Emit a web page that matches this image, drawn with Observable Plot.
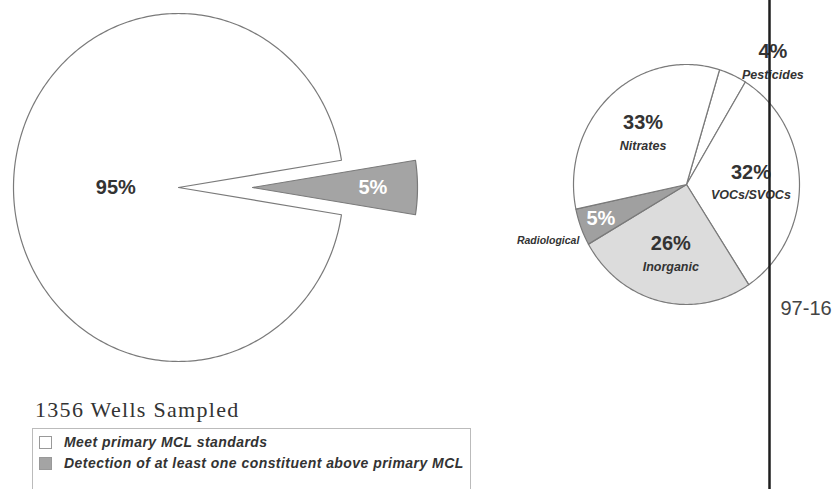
<!DOCTYPE html>
<html><head><meta charset="utf-8">
<script src="https://cdn.jsdelivr.net/npm/d3@7"></script>
<script src="https://cdn.jsdelivr.net/npm/@observablehq/plot@0.6"></script>
<style>
body{margin:0;background:#fff;}
#wrap{position:relative;width:837px;height:489px;overflow:hidden;font-family:"Liberation Sans",Arial,sans-serif;background:#fff;}
#chart{position:absolute;left:0;top:0;}
#title{position:absolute;left:35px;top:397px;font-family:"Liberation Serif","DejaVu Serif",serif;font-size:22px;letter-spacing:1.3px;color:#333;white-space:nowrap;}
#legend{position:absolute;left:32px;top:428px;width:437px;height:80px;border:1px solid #bbb;}
.item{position:absolute;left:6px;display:flex;align-items:center;font-style:italic;font-weight:bold;font-size:14px;letter-spacing:0.45px;color:#333;white-space:nowrap;}
.sw{width:11px;height:11px;border:1px solid #999;margin-right:12px;flex:none;}
</style></head><body>
<div id="wrap"><div id="chart"></div><div id="title"></div><div id="legend"></div></div>
<script>
// ---- data ----
const overallCategories = ["Meet primary MCL standards", "Detection of at least one constituent above primary MCL"];
const overallValues = [95, 5];
const constituentCategories = ["Pesticides", "VOCs/SVOCs", "Inorganic", "Radiological", "Nitrates"];
const constituentValues = [4, 32, 26, 5, 33];
const wellsSampled = 1356;
const sampleId = "97-16";

// ---- layout / style ----
const W = 837, H = 489;
const bigPie = {cx: 178, cy: 187, rx: 165, ry: 174, start: 99, explode: [0, 74], fills: ["#ffffff", "#a4a4a4"],
  labelR: [0.38, 0.73], labelFill: ["#333", "#ffffff"]};
const smallPie = {cx: 686, cy: 184, rx: 113, ry: 120, start: 17,
  fills: {"Pesticides": "#ffffff", "VOCs/SVOCs": "#ffffff", "Inorganic": "#dcdcdc", "Radiological": "#a0a0a0", "Nitrates": "#ffffff"}};
const smallLabels = {
  "Pesticides": {r: 1.27, a: 37},
  "VOCs/SVOCs": {r: 0.57},
  "Inorganic": {r: 0.6},
  "Radiological": {r: 0.81, nameR: 1.31, split: true, pctFill: "#ffffff"},
  "Nitrates": {r: 0.57}
};
const divider = {x: W - 68};
const strokeCol = "#7a7a7a";

const rad = d => d * Math.PI / 180;
function pt(p, a, r, off = 0) {
  return [p.cx + off * Math.sin(rad(a)) + r * p.rx * Math.sin(rad(a)), p.cy - off * Math.cos(rad(a)) - r * p.ry * Math.cos(rad(a))];
}
function slicePoints(p, a0, a1, off, id) {
  const c = pt(p, (a0 + a1) / 2, 0, off);
  const pts = [{id, x: c[0], y: c[1]}];
  const n = Math.max(2, Math.ceil(a1 - a0));
  for (let i = 0; i <= n; i++) {
    const a = a0 + (a1 - a0) * i / n;
    const q = [p.cx + off * Math.sin(rad((a0 + a1) / 2)) + p.rx * Math.sin(rad(a)),
               p.cy - off * Math.cos(rad((a0 + a1) / 2)) - p.ry * Math.cos(rad(a))];
    pts.push({id, x: q[0], y: q[1]});
  }
  pts.push({id, x: c[0], y: c[1]});
  return pts;
}

const marks = [];
// big pie
let acc = bigPie.start;
const bigTotal = d3.sum(overallValues);
const bigText = [];
overallValues.forEach((v, i) => {
  const span = v / bigTotal * 360;
  const a0 = acc, a1 = acc + span;
  acc = a1;
  const mid = (a0 + a1) / 2;
  const off = bigPie.explode[i];
  marks.push(Plot.line(slicePoints(bigPie, a0, a1, off, i), {x: "x", y: "y", fill: bigPie.fills[i], stroke: strokeCol, strokeWidth: 1.2, curve: "linear"}));
  const lp = pt(bigPie, mid, bigPie.labelR[i], off);
  bigText.push({x: lp[0], y: lp[1], text: v + "%", fill: bigPie.labelFill[i]});
});
marks.push(Plot.text(bigText, {x: "x", y: "y", text: "text", fill: d => d.fill, fontSize: 20, fontWeight: "bold", fontFamily: "Liberation Sans, Arial, sans-serif"}));

// small pie
acc = smallPie.start;
const smallTotal = d3.sum(constituentValues);
const pctText = [], nameText = [];
constituentValues.forEach((v, i) => {
  const cat = constituentCategories[i];
  const span = v / smallTotal * 360;
  const a0 = acc, a1 = acc + span;
  acc = a1;
  const mid = (a0 + a1) / 2;
  marks.push(Plot.line(slicePoints(smallPie, a0, a1, 0, cat), {x: "x", y: "y", fill: smallPie.fills[cat], stroke: strokeCol, strokeWidth: 1.2, curve: "linear"}));
  const L = smallLabels[cat];
  const g = pt(smallPie, L.a ?? mid, L.r);
  if (L.split) {
    pctText.push({x: g[0], y: g[1], text: v + "%", fill: L.pctFill});
    const n = pt(smallPie, mid, L.nameR);
    nameText.push({x: n[0], y: n[1], text: cat, size: 10.5});
  } else {
    pctText.push({x: g[0], y: g[1] - 11, text: v + "%", fill: "#333"});
    nameText.push({x: g[0], y: g[1] + 12, text: cat, size: 12.5});
  }
});
marks.push(Plot.text(pctText, {x: "x", y: "y", text: "text", fill: d => d.fill, fontSize: 20, fontWeight: "bold", fontFamily: "Liberation Sans, Arial, sans-serif"}));
marks.push(Plot.text(nameText.filter(d => d.size > 11), {x: "x", y: "y", text: "text", fill: "#333", fontSize: 12.5, fontWeight: "bold", fontStyle: "italic", fontFamily: "Liberation Sans, Arial, sans-serif"}));
marks.push(Plot.text(nameText.filter(d => d.size <= 11), {x: "x", y: "y", text: "text", fill: "#333", fontSize: 10.5, fontWeight: "bold", fontStyle: "italic", fontFamily: "Liberation Sans, Arial, sans-serif"}));

// divider and id
marks.push(Plot.ruleX([divider.x], {y1: 0, y2: H, stroke: "#1e1e1e", strokeWidth: 2.5}));
marks.push(Plot.text([sampleId], {x: divider.x + 11, y: 308, text: d => d, textAnchor: "start", fill: "#444", fontSize: 20, fontFamily: "Liberation Sans, Arial, sans-serif"}));

const chart = Plot.plot({
  width: W, height: H, margin: 0,
  x: {domain: [0, W], range: [0, W], axis: null},
  y: {domain: [0, H], range: [0, H], axis: null},
  style: {background: "transparent", overflow: "visible"},
  marks
});
document.getElementById("chart").appendChild(chart);

// title + legend
document.getElementById("title").textContent = wellsSampled + " Wells Sampled";
const legend = document.getElementById("legend");
overallCategories.forEach((c, i) => {
  const it = document.createElement("div");
  it.className = "item";
  it.style.top = (5 + i * 21) + "px";
  const sw = document.createElement("div");
  sw.className = "sw";
  sw.style.background = bigPie.fills[i];
  it.appendChild(sw);
  const t = document.createElement("span");
  t.textContent = c;
  it.appendChild(t);
  legend.appendChild(it);
});
</script>
</body></html>
